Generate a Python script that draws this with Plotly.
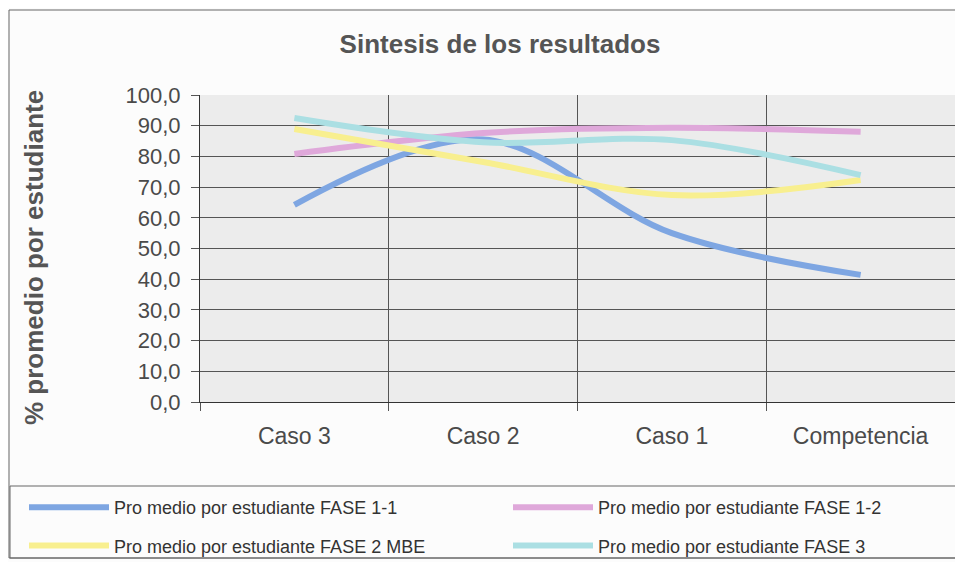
import plotly.graph_objects as go

# ── Data ──────────────────────────────────────────────────────────────────────
casos = ["Caso 3", "Caso 2", "Caso 1", "Competencia"]

fase_1_1 = [64.2, 85.5, 55.0, 41.4]
fase_1_2 = [80.8, 87.6, 89.3, 88.0]
fase_2_mbe = [88.9, 78.2, 67.4, 72.3]
fase_3 = [92.5, 84.6, 85.3, 73.9]

series_names = [
    "Pro medio por estudiante FASE 1-1",
    "Pro medio por estudiante FASE 1-2",
    "Pro medio por estudiante FASE 2 MBE",
    "Pro medio por estudiante FASE 3",
]

y_ticks = [0, 10, 20, 30, 40, 50, 60, 70, 80, 90, 100]

# ── Colours ───────────────────────────────────────────────────────────────────
C_BLUE = "#7ea6e2"
C_PINK = "#dfa8da"
C_YELLOW = "#f8ef8f"
C_CYAN = "#abdfe3"
C_TEXT = "#4a4a4a"
C_GRID = "#555555"

FONT = "Liberation Sans, Arial, sans-serif"

# the page body adds an 8px offset, so the figure is laid out 8px smaller
OFF = 8
W, H = 963 - OFF, 562 - OFF
# plot area in reference pixels: x 200..955, y 95..402
L, R = 200 - OFF, 963 - 955
T, B = 95 - OFF, 562 - 402
PW, PH = W - L - R, H - T - B


def px(x):
    # reference pixel x -> paper fraction
    return (x - OFF - L) / PW


def py(y):
    # reference pixel y -> paper fraction
    return (H - B - (y - OFF)) / PH


fig = go.Figure()

# left legend column: FASE 1-1, FASE 2 MBE ; right column: FASE 1-2, FASE 3
for vals, name, col, leg in [
    (fase_1_1, series_names[0], C_BLUE, "legend"),
    (fase_1_2, series_names[1], C_PINK, "legend2"),
    (fase_2_mbe, series_names[2], C_YELLOW, "legend"),
    (fase_3, series_names[3], C_CYAN, "legend2"),
]:
    fig.add_trace(go.Scatter(
        x=casos, y=vals, name=name,
        mode="lines",
        legend=leg, legendgroup=name,
        line=dict(color=col, width=6, shape="spline", smoothing=1.0),
    ))

leg_common = dict(
    orientation="v",
    yanchor="top", xanchor="left",
    itemwidth=80,
    font=dict(size=18, color="#333333"),
    bgcolor="rgba(0,0,0,0)",
    tracegroupgap=12,
)

fig.update_layout(
    width=W, height=H,
    margin=dict(l=L, r=R, t=T, b=B, autoexpand=False),
    paper_bgcolor="#fcfcfc",
    plot_bgcolor="#ececec",
    separators=",.",
    font=dict(family=FONT, color=C_TEXT),
    title=dict(
        text="<b>Sintesis de los resultados</b>",
        font=dict(size=26, color="#555555"),
        x=(500 - OFF) / W, xanchor="center",
        y=1 - (44 - OFF) / H, yanchor="middle",
    ),
    legend=dict(x=px(24), y=py(489), **leg_common),
    legend2=dict(x=px(508), y=py(489), **leg_common),
    showlegend=True,
)

fig.update_xaxes(
    type="category",
    tickson="boundaries",
    showgrid=True, gridcolor=C_GRID, gridwidth=1,
    ticks="outside", ticklen=8, tickcolor=C_GRID,
    showline=True, linecolor="#333333", linewidth=1,
    tickfont=dict(size=23, color=C_TEXT),
    ticklabelstandoff=13,
    range=[-0.5, 3.5],
)

fig.update_yaxes(
    range=[0, 100],
    tickvals=y_ticks,
    tickformat=".1f",
    showgrid=True, gridcolor=C_GRID, gridwidth=1,
    ticks="outside", ticklen=8, tickcolor=C_GRID,
    showline=True, linecolor="#333333", linewidth=1,
    zeroline=False,
    tickfont=dict(size=22, color=C_TEXT),
    ticklabelstandoff=6,
)

# y axis title placed by hand, as in the scan
fig.add_annotation(
    text="<b>% promedio por estudiante</b>",
    xref="paper", yref="paper",
    x=px(34), y=py(258), xanchor="center", yanchor="middle",
    textangle=-90, showarrow=False,
    font=dict(size=26, color="#555555"),
)

# outer chart border and legend box
fig.add_shape(type="rect", xref="paper", yref="paper",
              x0=px(9), x1=px(959), y0=py(558), y1=py(10),
              line=dict(color="#666666", width=1), layer="below")
fig.add_shape(type="rect", xref="paper", yref="paper",
              x0=px(10), x1=px(960), y0=py(558), y1=py(486),
              line=dict(color="#666666", width=1), layer="below")

fig.write_html("out.html")
